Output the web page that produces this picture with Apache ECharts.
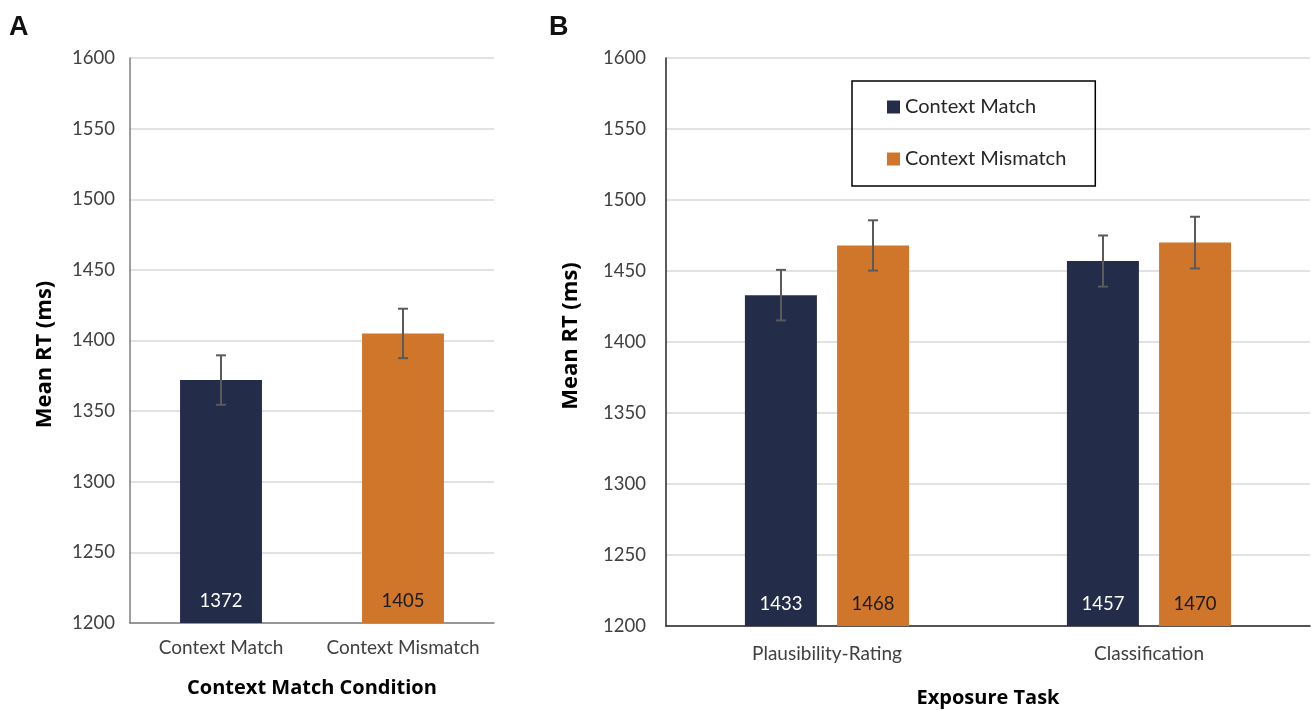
<!DOCTYPE html>
<html>
<head>
<meta charset="utf-8">
<script src="https://cdn.jsdelivr.net/npm/echarts@6/dist/echarts.min.js"></script>
<style>
  html, body { margin: 0; padding: 0; background: #ffffff; }
  #chart { width: 1311px; height: 710px; }
</style>
</head>
<body>
<div id="chart"></div>
<script>
// ---- Data ----
const aCategories = ['Context Match', 'Context Mismatch'];
const aMeans = [1372, 1405];
const aErrors = [17.5, 17.5];

const bCategories = ['Plausibility-Rating', 'Classification'];
const bMatchMeans = [1433, 1457];
const bMismatchMeans = [1468, 1470];
const bMatchErrors = [17.8, 18.0];
const bMismatchErrors = [17.7, 18.2];

const seriesNames = ['Context Match', 'Context Mismatch'];
const yMin = 1200, yMax = 1600, yStep = 50;

// ---- Styles ----
const NAVY = '#232c48';
const ORANGE = '#d0762b';
const ERR = '#5a5a5a';
const FONT = 'Lato, "Open Sans", sans-serif';
const TITLE_FONT = '"Open Sans", Lato, sans-serif';

const chart = echarts.init(document.getElementById('chart'), null, { renderer: 'canvas' });

function errorData(means, errs) {
  return means.map((m, i) => [i, m - errs[i], m + errs[i]]);
}

function errorRenderer(offsetPx) {
  return function (params, api) {
    const x = api.value(0);
    const lo = api.coord([x, api.value(1)]);
    const hi = api.coord([x, api.value(2)]);
    const cx = lo[0] + offsetPx;
    const cap = 5;
    const style = { stroke: ERR, lineWidth: 2 };
    return {
      type: 'group',
      children: [
        { type: 'line', shape: { x1: cx, y1: hi[1], x2: cx, y2: lo[1] }, style },
        { type: 'line', shape: { x1: cx - cap, y1: hi[1], x2: cx + cap, y2: hi[1] }, style },
        { type: 'line', shape: { x1: cx - cap, y1: lo[1], x2: cx + cap, y2: lo[1] }, style }
      ]
    };
  };
}

const yAxisCommon = {
  type: 'value', min: yMin, max: yMax, interval: yStep,
  nameLocation: 'middle',
  axisLabel: { fontFamily: FONT, fontSize: 18.5, color: '#404040', formatter: v => String(v) },
  axisTick: { show: false },
  splitLine: { show: true, lineStyle: { color: '#d9d9d9', width: 1.5 } }
};

const xAxisCommon = {
  type: 'category',
  nameLocation: 'middle',
  nameTextStyle: { fontFamily: TITLE_FONT, fontWeight: 'bold', fontSize: 20, color: '#000' },
  axisLabel: { fontFamily: FONT, fontSize: 19, color: '#404040', interval: 0 },
  axisTick: { show: false },
  splitLine: { show: false }
};

const labelCommon = {
  show: true, position: 'insideBottom', distance: 12,
  fontFamily: FONT, fontSize: 18.5
};

const barColorsA = [NAVY, ORANGE];
const labelColorsA = ['#ffffff', '#1a1a1a'];

const option = {
  backgroundColor: '#ffffff',
  animation: false,
  graphic: [
    { type: 'text', left: 9, top: 14, style: { text: 'A', font: 'bold 27px "Liberation Sans", Arial, sans-serif', fill: '#111' } },
    { type: 'text', left: 549, top: 14, style: { text: 'B', font: 'bold 27px "Liberation Sans", Arial, sans-serif', fill: '#111' } }
  ],
  legend: {
    data: seriesNames,
    orient: 'vertical',
    left: 852, top: 81,
    padding: [16, 29, 17, 35],
    itemGap: 32,
    itemWidth: 13, itemHeight: 13,
    icon: 'rect',
    borderColor: '#000', borderWidth: 1.5,
    textStyle: { fontFamily: FONT, fontSize: 20, color: '#262626' }
  },
  grid: [
    { left: 130, top: 58, width: 364, height: 565, containLabel: false, outerBoundsMode: 'none' },
    { left: 666, top: 58, width: 644, height: 568, containLabel: false, outerBoundsMode: 'none' }
  ],
  xAxis: [
    Object.assign({}, xAxisCommon, {
      gridIndex: 0, data: aCategories,
      name: 'Context Match Condition', nameGap: 55,
      axisLabel: Object.assign({}, xAxisCommon.axisLabel, { margin: 15 }),
      axisLine: { lineStyle: { color: '#7f7f7f', width: 1.5 } }
    }),
    Object.assign({}, xAxisCommon, {
      gridIndex: 1, data: bCategories,
      name: 'Exposure Task', nameGap: 62,
      axisLabel: Object.assign({}, xAxisCommon.axisLabel, { margin: 18 }),
      axisLine: { lineStyle: { color: '#262626', width: 1.5 } }
    })
  ],
  yAxis: [
    Object.assign({}, yAxisCommon, {
      gridIndex: 0, name: 'Mean RT (ms)', nameGap: 74,
      nameTextStyle: { fontFamily: TITLE_FONT, fontWeight: 'bold', fontSize: 22, color: '#000', padding: [0, 28, 0, 0] },
      axisLabel: Object.assign({}, yAxisCommon.axisLabel, { margin: 15 }),
      axisLine: { show: true, lineStyle: { color: '#7f7f7f', width: 1.5 } }
    }),
    Object.assign({}, yAxisCommon, {
      gridIndex: 1, name: 'Mean RT (ms)', nameGap: 84,
      nameTextStyle: { fontFamily: TITLE_FONT, fontWeight: 'bold', fontSize: 22, color: '#000', padding: [0, 0, 0, 12] },
      axisLabel: Object.assign({}, yAxisCommon.axisLabel, { margin: 20 }),
      axisLine: { show: true, lineStyle: { color: '#262626', width: 1.5 } }
    })
  ],
  series: [
    {
      name: 'Mean RT by condition', type: 'bar', xAxisIndex: 0, yAxisIndex: 0,
      barWidth: '45%',
      data: aMeans.map((v, i) => ({
        value: v,
        itemStyle: { color: barColorsA[i] },
        label: { color: labelColorsA[i] }
      })),
      label: labelCommon
    },
    {
      name: 'Error A', type: 'custom', xAxisIndex: 0, yAxisIndex: 0, z: 10,
      renderItem: errorRenderer(0),
      encode: { x: 0, y: [1, 2] },
      data: errorData(aMeans, aErrors), silent: true
    },
    {
      name: seriesNames[0], type: 'bar', xAxisIndex: 1, yAxisIndex: 1,
      barWidth: 72, barGap: '28%',
      itemStyle: { color: NAVY },
      label: Object.assign({}, labelCommon, { color: '#ffffff' }),
      data: bMatchMeans
    },
    {
      name: seriesNames[1], type: 'bar', xAxisIndex: 1, yAxisIndex: 1,
      barWidth: 72, barGap: '28%',
      itemStyle: { color: ORANGE },
      label: Object.assign({}, labelCommon, { color: '#1a1a1a' }),
      data: bMismatchMeans
    },
    {
      name: 'Error B match', type: 'custom', xAxisIndex: 1, yAxisIndex: 1, z: 10,
      renderItem: errorRenderer(-46),
      encode: { x: 0, y: [1, 2] },
      data: errorData(bMatchMeans, bMatchErrors), silent: true
    },
    {
      name: 'Error B mismatch', type: 'custom', xAxisIndex: 1, yAxisIndex: 1, z: 10,
      renderItem: errorRenderer(46),
      encode: { x: 0, y: [1, 2] },
      data: errorData(bMismatchMeans, bMismatchErrors), silent: true
    }
  ]
};

chart.setOption(option);
</script>
</body>
</html>
